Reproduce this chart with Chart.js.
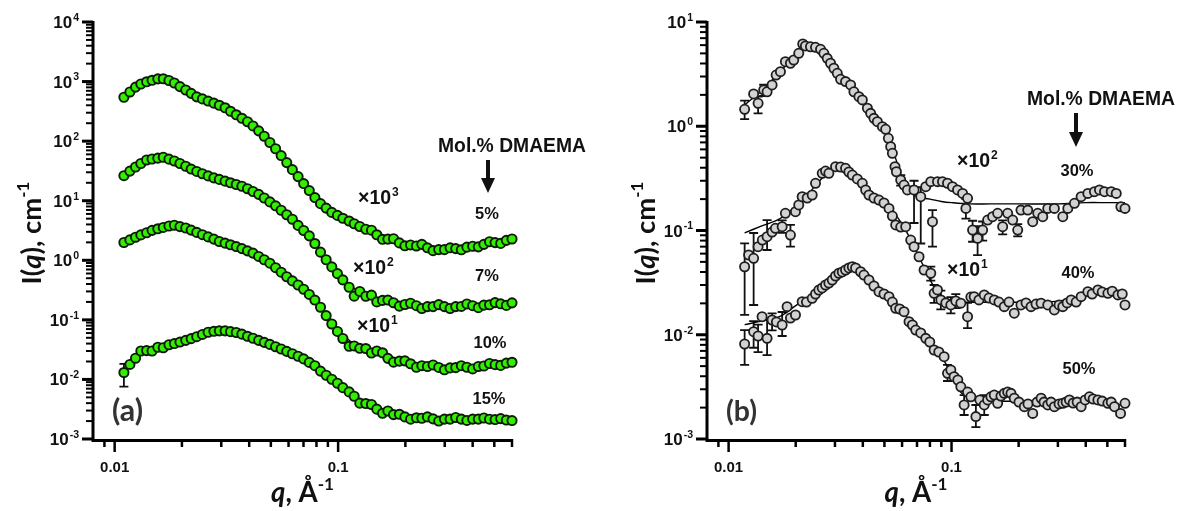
<!DOCTYPE html>
<html>
<head>
<meta charset="utf-8">
<script src="https://cdn.jsdelivr.net/npm/chart.js@4.4.1/dist/chart.umd.min.js"></script>
<style>
  body { margin: 0; background: #fff; }
  #wrap { position: relative; width: 1177px; height: 511px; }
  canvas { position: absolute; left: 0; top: 0; }
</style>
</head>
<body>
<div id="wrap">
  <canvas id="chartA" width="1177" height="511"></canvas>
  <canvas id="chartB" width="1177" height="511"></canvas>
</div>
<script>
// ---------- panel (a): q grid and intensities (green) ----------
var qA = [0.0110,0.0117,0.0124,0.0131,0.0139,0.0147,0.0156,0.0165,0.0175,0.0185,
  0.0196,0.0208,0.0220,0.0233,0.0247,0.0262,0.0278,0.0294,0.0312,0.0330,
  0.0350,0.0371,0.0393,0.0416,0.0441,0.0467,0.0495,0.0525,0.0556,0.0589,
  0.0624,0.0662,0.0701,0.0743,0.0787,0.0834,0.0884,0.0937,0.0993,0.105,
  0.112,0.118,0.125,0.133,0.141,0.149,0.158,0.167,0.177,0.188,
  0.199,0.211,0.224,0.237,0.251,0.266,0.282,0.299,0.317,0.336,
  0.356,0.377,0.400,0.424,0.449,0.476,0.504,0.534,0.566,0.600];

var I5 = [545,669,808,911,992,1051,1110,1114,1043,947,
  824,722,634,554,512,471,434,400,363,317,
  277,242,212,180,149,121,95,74.5,57.3,43.6,
  33.2,25.4,19.4,14.8,11.3,8.93,7.51,6.37,5.67,5.07,
  4.56,4.11,3.69,3.32,3.20,2.68,2.25,2.27,2.30,1.96,
  1.75,1.81,1.74,1.85,1.62,1.45,1.51,1.51,1.62,1.57,
  1.50,1.66,1.72,1.68,1.85,2.05,1.98,1.92,2.16,2.28];

var I7 = [26.3,31.4,36.8,42.1,48.3,50.1,51.8,53.7,49.9,46.5,
  42.2,37.9,34.0,31.0,28.4,26.1,24.2,22.8,21.3,20.0,
  18.7,17.5,15.9,14.3,12.8,11.1,9.55,8.21,6.92,5.82,
  4.89,3.85,3.16,2.57,1.91,1.37,1.02,0.775,0.596,0.469,
  0.353,0.25,0.30,0.249,0.26,0.20,0.212,0.215,0.194,0.17,
  0.181,0.19,0.173,0.155,0.167,0.167,0.18,0.167,0.155,0.167,
  0.168,0.185,0.173,0.16,0.177,0.179,0.195,0.186,0.175,0.193];

var I10 = [1.99,2.20,2.44,2.67,2.90,3.18,3.38,3.56,3.76,3.88,
  3.68,3.48,3.21,2.94,2.69,2.47,2.27,2.07,1.94,1.82,
  1.70,1.57,1.44,1.32,1.16,1.02,0.894,0.751,0.631,0.530,
  0.451,0.385,0.327,0.267,0.215,0.163,0.118,0.0853,0.0639,0.0487,
  0.036,0.0365,0.0333,0.0330,0.0278,0.030,0.028,0.0226,0.0195,0.0203,
  0.0205,0.0183,0.0160,0.0170,0.0165,0.0175,0.0159,0.0145,0.0156,0.0158,
  0.0170,0.0160,0.0150,0.0165,0.0168,0.0185,0.0177,0.0172,0.0188,0.0194];

var I15 = [0.01305,0.01785,0.0227,0.0300,0.0305,0.0300,0.0347,0.0340,0.0382,0.0400,
  0.0424,0.0453,0.0484,0.0522,0.0569,0.0619,0.0643,0.0654,0.0654,0.0634,
  0.0614,0.0575,0.0530,0.0491,0.0453,0.0419,0.0387,0.0354,0.0324,0.0296,
  0.0270,0.0245,0.0221,0.0193,0.0170,0.0138,0.01176,0.01007,0.00863,0.00728,
  0.00617,0.00522,0.0040,0.00394,0.0038,0.00317,0.0027,0.00295,0.00257,0.0026,
  0.00235,0.00215,0.00227,0.00223,0.00235,0.00218,0.0020,0.00216,0.00216,0.0023,
  0.00216,0.00205,0.00216,0.00216,0.00225,0.00215,0.00212,0.0022,0.00208,0.00204];
var err15Idx = [0], err15Lo = [0.0076], err15Hi = [0.0183];

// model fits, panel (a)
var fitQA = [0.0110,0.0131,0.0156,0.0185,0.0220,0.0262,0.0312,0.0371,0.0441,0.0525,0.0624,0.0743,
  0.0884,0.105,0.125,0.149,0.177,0.211,0.251,0.299,0.356,0.424,0.504,0.600];
var fit5 = [545,911,1110,947,634,471,363,242,149,74.5,33.2,14.8,7.51,5.07,3.69,2.68,2.11,1.81,1.62,1.51,1.60,1.79,1.98,2.28];
var fit7 = [26.3,42.1,51.8,46.5,34.0,26.1,21.3,17.5,12.8,8.21,4.89,2.57,1.02,0.50,0.29,0.226,0.196,0.177,0.168,0.167,0.168,0.175,0.182,0.193];
var fit10 = [1.99,2.67,3.38,3.88,3.21,2.47,1.94,1.57,1.16,0.751,0.451,0.267,0.125,0.056,0.034,0.0262,0.0215,0.0183,0.0166,0.0157,0.0159,0.0165,0.0177,0.0194];
var fit15 = [0.018,0.0276,0.0347,0.040,0.0484,0.0619,0.0654,0.0575,0.0453,0.0354,0.027,0.0193,0.01176,0.00728,0.00441,0.00317,0.00257,0.00231,0.00221,0.00216,0.00216,0.00216,0.00212,0.00204];

// ---------- panel (b): grey points ----------
var q30 = [0.0118,0.01295,0.01356,0.01437,0.01488,0.01567,0.01634,0.01708,0.01798,0.01894,
  0.0196,0.02064,0.02151,0.02212,0.0233,0.02454,0.02585,0.02675,0.0277,0.02866,
  0.02966,0.03073,0.03179,0.03347,0.03526,0.03648,0.03842,0.0398,0.04193,0.04337,
  0.04487,0.04648,0.04895,0.05065,0.05208,0.05334,0.05429,0.05577,0.05658,0.05916,
  0.06122,0.06341,0.06789,0.07276,0.07663,0.0807,0.08214,0.0865,0.09111,0.09594,
  0.1010,0.1064,0.1121,0.1160,0.1180,0.1243,0.1309,0.1379,0.1452,0.1529,
  0.1610,0.1696,0.1786,0.1881,0.1981,0.2049,0.2197,0.2313,0.2436,0.2566,
  0.2702,0.2893,0.3156,0.3324,0.3559,0.3814,0.4088,0.4377,0.461,0.4856,
  0.5204,0.5481,0.575,0.600];
var I30 = [1.454,2.04,1.66,2.23,2.14,2.49,3.10,3.34,4.16,4.02,
  4.32,5.01,6.15,5.89,5.79,5.72,5.47,5.01,4.48,4.02,
  3.60,3.22,2.82,2.68,2.49,2.14,1.92,1.79,1.49,1.33,
  1.19,1.105,0.99,0.935,0.766,0.637,0.55,0.409,0.366,0.305,
  0.273,0.245,0.245,0.211,0.263,0.294,0.1215,0.294,0.294,0.284,
  0.263,0.245,0.227,0.163,0.2036,0.101,0.0842,0.101,0.126,0.1356,
  0.1462,0.1088,0.1462,0.126,0.101,0.157,0.157,0.1215,0.1462,0.1356,
  0.163,0.163,0.1356,0.163,0.1823,0.211,0.227,0.2356,0.245,0.2356,
  0.2356,0.227,0.169,0.163];
var err30Idx = [0,2,3,39,42,43,46,53,55,56,57,61,64];
var err30Lo = [1.17,1.33,1.95,0.27,0.118,0.075,0.07,0.13,0.078,0.058,0.08,0.092,0.088];
var err30Hi = [1.76,1.92,2.5,0.34,0.30,0.26,0.157,0.2,0.124,0.11,0.122,0.125,0.115];

var q40 = [0.0118,0.0123,0.01295,0.01356,0.01417,0.01488,0.01567,0.01622,0.01739,0.01798,
  0.01894,0.01995,0.02064,0.02138,0.02252,0.02371,0.02454,0.0263,0.02722,0.02817,
  0.03018,0.03179,0.03347,0.03464,0.03588,0.03779,0.0398,0.04119,0.04262,0.04487,
  0.04726,0.04977,0.05242,0.05429,0.05618,0.05916,0.0623,0.06561,0.06789,0.07149,
  0.0753,0.0807,0.08353,0.0865,0.08954,0.09428,0.09929,0.1045,0.1101,0.118,
  0.1221,0.1264,0.1327,0.1402,0.1472,0.1555,0.1632,0.1724,0.181,0.1912,
  0.2049,0.2159,0.2273,0.2394,0.2522,0.2702,0.2893,0.3037,0.3156,0.330,
  0.344,0.3623,0.3814,0.4088,0.4274,0.4535,0.4741,0.5028,0.5257,0.5577,
  0.5831,0.600];
var I40 = [0.0449,0.0582,0.0541,0.0699,0.081,0.0872,0.0967,0.105,0.1088,0.1462,
  0.0905,0.1515,0.1757,0.211,0.205,0.219,0.2836,0.3537,0.372,0.3537,
  0.409,0.4065,0.395,0.364,0.3405,0.312,0.2836,0.2446,0.219,0.205,
  0.196,0.1836,0.163,0.1377,0.113,0.108,0.1088,0.081,0.0699,0.056,
  0.0418,0.0389,0.025,0.0269,0.0216,0.0202,0.0193,0.0211,0.0201,0.0149,
  0.023,0.0232,0.0216,0.0241,0.0225,0.0216,0.0206,0.0186,0.0206,0.0161,
  0.0193,0.0202,0.0186,0.0197,0.0201,0.0193,0.0173,0.0193,0.0186,0.0202,
  0.0216,0.0206,0.0232,0.0259,0.0246,0.0269,0.0257,0.025,0.0262,0.0241,
  0.0246,0.0193];
var err40Idx = [0,2,5,8,10,41,42,44,46,47,49];
var err40Lo = [0.0155,0.0193,0.065,0.095,0.0699,0.033,0.0202,0.0175,0.016,0.018,0.0116];
var err40Hi = [0.0754,0.0946,0.126,0.125,0.113,0.045,0.030,0.0265,0.023,0.0245,0.0202];

var q50 = [0.0118,0.01295,0.01356,0.01413,0.01488,0.01567,0.01639,0.01739,0.0183,0.01894,
  0.01995,0.02138,0.02235,0.02371,0.02454,0.0254,0.0263,0.02722,0.02817,0.02917,
  0.03018,0.03124,0.03235,0.03347,0.03464,0.03588,0.03713,0.0391,0.04046,0.04262,
  0.04487,0.04726,0.04977,0.05242,0.05429,0.05618,0.05854,0.06122,0.06447,0.06677,
  0.0691,0.07276,0.07663,0.07987,0.08353,0.08768,0.09263,0.09594,0.09929,0.1027,
  0.1067,0.1101,0.1139,0.118,0.1221,0.1286,0.134,0.1402,0.1452,0.1502,
  0.1555,0.161,0.1666,0.1724,0.1786,0.1848,0.1912,0.2007,0.2121,0.2203,
  0.2313,0.2418,0.2522,0.26,0.2702,0.2796,0.2893,0.3037,0.3156,0.3266,
  0.338,0.3511,0.366,0.3814,0.3976,0.4157,0.4318,0.4535,0.4741,0.5028,
  0.5204,0.5384,0.5731,0.600];
var I50 = [0.00815,0.0107,0.00973,0.0149,0.00924,0.01385,0.01326,0.0124,0.0186,0.01447,
  0.01547,0.02075,0.0206,0.02236,0.0246,0.02686,0.0281,0.030,0.03135,0.0335,
  0.0366,0.0389,0.040,0.0418,0.0437,0.0449,0.0437,0.0402,0.0374,0.0335,
  0.02935,0.02588,0.0246,0.02317,0.0206,0.01794,0.01766,0.01664,0.01334,0.0124,
  0.0111,0.0104,0.00924,0.00852,0.00714,0.00683,0.00616,0.00427,0.00459,0.00396,
  0.00368,0.00317,0.00212,0.00282,0.00254,0.00164,0.00237,0.00212,0.00237,0.00254,
  0.00264,0.0022,0.00258,0.00274,0.00282,0.00274,0.00246,0.00226,0.00204,0.00217,
  0.00176,0.00226,0.00246,0.00226,0.00212,0.00226,0.00204,0.00217,0.0022,0.00226,
  0.00237,0.00221,0.00226,0.00204,0.00237,0.00254,0.00242,0.00237,0.00231,0.0022,
  0.00226,0.00204,0.00176,0.0022];
var err50Idx = [0,1,2,4,5,7,47,52,55,57];
var err50Lo = [0.00513,0.0075,0.0068,0.00639,0.011,0.00973,0.0036,0.0017,0.0013,0.0017];
var err50Hi = [0.0111,0.0135,0.0125,0.01385,0.016,0.01652,0.00513,0.00264,0.00212,0.00264];

// model fits, panel (b)
var fitQ30 = [0.0118,0.013,0.0145,0.016,0.018,0.020,0.0215,0.023,0.025,0.0275,0.030,0.033,0.036,0.040,0.044,0.048,
  0.052,0.056,0.060,0.065,0.070,0.080,0.090,0.10,0.12,0.15,0.20,0.30,0.40,0.50,0.60];
var fit30 = [1.6,1.9,2.3,2.9,3.8,4.9,5.8,5.9,5.6,4.8,3.8,2.9,2.3,1.75,1.3,1.05,0.80,0.50,0.32,0.24,0.21,0.20,0.19,0.185,0.18,0.18,0.18,0.18,0.185,0.185,0.185];
var fitQ40 = [0.0118,0.014,0.017,0.020,0.023,0.026,0.029,0.032,0.035,0.038,0.042,0.046,0.050,0.055,0.060,0.065,
  0.070,0.075,0.080,0.085,0.090,0.10,0.12,0.15,0.20,0.30,0.40,0.50,0.60];
var fit40 = [0.095,0.11,0.13,0.17,0.23,0.31,0.38,0.40,0.36,0.31,0.25,0.21,0.185,0.15,0.115,0.085,
  0.062,0.045,0.034,0.027,0.024,0.021,0.0205,0.0205,0.0205,0.021,0.0235,0.0245,0.0235];
var fitQ50 = [0.0118,0.014,0.017,0.020,0.023,0.026,0.030,0.033,0.036,0.039,0.043,0.047,0.052,0.057,0.062,0.068,
  0.075,0.082,0.090,0.10,0.11,0.125,0.15,0.20,0.30,0.40,0.50,0.60];
var fit50 = [0.0125,0.0135,0.015,0.019,0.023,0.028,0.035,0.041,0.045,0.043,0.037,0.029,0.024,0.019,0.0155,0.012,
  0.0098,0.0081,0.0062,0.0042,0.0028,0.0024,0.0023,0.0023,0.0022,0.0023,0.0022,0.0021];

// ---------- axes: tick values and labels ----------
var xTickVals = [0.009,0.01,0.02,0.03,0.04,0.05,0.06,0.07,0.08,0.09,0.1,0.2,0.3,0.4,0.5,0.6];
var xLabelVals = [0.01, 0.1];
var xTickLabels = ['0.01', '0.1'];
var aYExp = [-3, -2, -1, 0, 1, 2, 3, 4];
var bYExp = [-3, -2, -1, 0, 1];

var aLabels = ['5%', '7%', '10%', '15%'];
var aFactors = ['3', '2', '1'];
var bLabels = ['30%', '40%', '50%'];
var bFactors = ['2', '1'];

var LAB = '"Liberation Sans", Arial, sans-serif';
var TTL = 'Lato, "Open Sans", sans-serif';

function partFont(p, size, fam) {
  var s = p.sup ? size * 0.62 : size;
  return (p.it ? 'italic ' : '') + 'bold ' + s.toFixed(2) + 'px ' + fam;
}
function richWidth(ctx, parts, size, fam) {
  var w = 0;
  parts.forEach(function(p) {
    ctx.font = partFont(p, size, fam);
    w += ctx.measureText(p.t).width + (p.gap || 0);
  });
  return w;
}
function fitSize(ctx, parts, fam, target) {
  return 100 * target / richWidth(ctx, parts, 100, fam);
}
// y is the baseline
function drawRich(ctx, parts, x, y, size, fam, align) {
  var w = richWidth(ctx, parts, size, fam);
  var cx = align === 'center' ? x - w / 2 : (align === 'right' ? x - w : x);
  ctx.textAlign = 'left';
  ctx.textBaseline = 'alphabetic';
  parts.forEach(function(p) {
    ctx.font = partFont(p, size, fam);
    ctx.fillText(p.t, cx, p.sup ? y - size * 0.42 : y);
    cx += ctx.measureText(p.t).width + (p.gap || 0);
  });
}
function drawArrow(ctx, x, y0, y1) {
  ctx.fillRect(x - 2, y0, 4, y1 - y0 - 13);
  ctx.beginPath();
  ctx.moveTo(x - 7, y1 - 15);
  ctx.lineTo(x + 7, y1 - 15);
  ctx.lineTo(x, y1);
  ctx.closePath();
  ctx.fill();
}

function panelPlugin(pan) {
  return {
    id: 'sas_' + pan.id,
    beforeDatasetsDraw: function(chart) {
      var ctx = chart.ctx, xs = chart.scales.x, ys = chart.scales.y;
      ctx.save();
      ctx.strokeStyle = '#111';
      ctx.lineWidth = 1.8;
      pan.series.forEach(function(s) {
        if (!s.errIdx) return;
        s.errIdx.forEach(function(idx, k) {
          var px = xs.getPixelForValue(s.q[idx]);
          var y1 = ys.getPixelForValue(s.errLo[k]), y2 = ys.getPixelForValue(s.errHi[k]);
          ctx.beginPath();
          ctx.moveTo(px, y1); ctx.lineTo(px, y2);
          ctx.moveTo(px - 4.5, y1); ctx.lineTo(px + 4.5, y1);
          ctx.moveTo(px - 4.5, y2); ctx.lineTo(px + 4.5, y2);
          ctx.stroke();
        });
      });
      ctx.restore();
    },
    afterDraw: function(chart) {
      var ctx = chart.ctx, a = chart.chartArea, xs = chart.scales.x, ys = chart.scales.y;
      ctx.save();
      ctx.strokeStyle = '#000';
      ctx.fillStyle = '#111';
      // y ticks
      pan.yExp.forEach(function(e) {
        for (var m = 1; m <= 9; m++) {
          var v = m * Math.pow(10, e);
          if (v > ys.max * 1.0001) break;
          var py = ys.getPixelForValue(v);
          ctx.lineWidth = m === 1 ? 3 : 2;
          ctx.beginPath();
          ctx.moveTo(a.left - (m === 1 ? 11 : 7), py);
          ctx.lineTo(a.left, py);
          ctx.stroke();
        }
        var ly = ys.getPixelForValue(Math.pow(10, e));
        drawRich(ctx, [{t: '10', gap: 1}, {t: String(e), sup: true}],
          a.left - 14, ly + 6, 17, LAB, 'right');
      });
      // x ticks
      xTickVals.forEach(function(v) {
        var px = xs.getPixelForValue(v);
        var major = xLabelVals.indexOf(v) >= 0;
        ctx.lineWidth = 2.5;
        ctx.beginPath();
        ctx.moveTo(px, a.bottom);
        ctx.lineTo(px, a.bottom + (major ? 13 : 8));
        ctx.stroke();
      });
      xLabelVals.forEach(function(v, i) {
        drawRich(ctx, [{t: xTickLabels[i]}], xs.getPixelForValue(v), 472, 15, LAB, 'center');
      });
      // axis lines
      ctx.lineWidth = 3;
      ctx.beginPath();
      ctx.moveTo(a.left, a.top - 1);
      ctx.lineTo(a.left, a.bottom + 1.5);
      ctx.lineTo(a.right + 1, a.bottom + 1.5);
      ctx.stroke();
      // axis titles
      var yt = [{t: 'I('}, {t: 'q', it: true}, {t: '), cm'}, {t: '-1', sup: true}];
      var ys0 = fitSize(ctx, yt, TTL, 103);
      ctx.save();
      ctx.translate(pan.yTitleX, 233);
      ctx.rotate(-Math.PI / 2);
      drawRich(ctx, yt, 0, 0, ys0, TTL, 'center');
      ctx.restore();
      var xt = [{t: 'q', it: true}, {t: ', \u00C5'}, {t: '-1', sup: true}];
      drawRich(ctx, xt, (a.left + a.right) / 2, 502, fitSize(ctx, xt, TTL, 63), TTL, 'center');
      // panel letter
      ctx.fillStyle = '#333';
      var pl = [{t: pan.letter}];
      drawRich(ctx, pl, pan.letterX, 421, fitSize(ctx, pl, TTL, 31), TTL, 'left');
      // annotations
      ctx.fillStyle = '#111';
      var mol = [{t: 'Mol.% DMAEMA'}];
      drawRich(ctx, mol, pan.molX, pan.molY, fitSize(ctx, mol, LAB, 148), LAB, 'center');
      drawArrow(ctx, pan.arrowX, pan.arrowY0, pan.arrowY1);
      var ps = fitSize(ctx, [{t: '10%'}], LAB, 33);
      pan.labels.forEach(function(t, i) {
        drawRich(ctx, [{t: t}], pan.labelX[i], pan.labelY[i], ps, LAB, 'center');
      });
      var fs = fitSize(ctx, [{t: '\u00D710', gap: 1}, {t: '3', sup: true}], LAB, 40);
      pan.factors.forEach(function(t, i) {
        drawRich(ctx, [{t: '\u00D710', gap: 1}, {t: t, sup: true}], pan.factorX[i], pan.factorY[i], fs, LAB, 'left');
      });
      ctx.restore();
    }
  };
}

function makeChart(canvasId, pan) {
  var datasets = [];
  pan.series.forEach(function(s) {
    datasets.push({
      data: s.q.map(function(q, i) { return {x: q, y: s.I[i]}; }),
      showLine: false,
      pointRadius: pan.r, pointHoverRadius: pan.r,
      pointBorderWidth: pan.bw,
      pointBackgroundColor: pan.fill,
      pointBorderColor: pan.edge,
      clip: false, order: 1
    });
    datasets.push({
      data: s.fq.map(function(q, i) { return {x: q, y: s.fI[i]}; }),
      showLine: true, pointRadius: 0, pointHoverRadius: 0,
      borderColor: '#000', borderWidth: 1.4, tension: 0.35,
      clip: false, order: 2
    });
  });
  return new Chart(document.getElementById(canvasId).getContext('2d'), {
    type: 'scatter',
    data: {datasets: datasets},
    options: {
      responsive: false,
      animation: false,
      events: [],
      layout: {padding: pan.pad},
      plugins: {legend: {display: false}, tooltip: {enabled: false}},
      scales: {
        x: {type: 'logarithmic', min: 0.008, max: 0.6, display: false},
        y: {type: 'logarithmic', min: pan.ymin, max: pan.ymax, display: false}
      }
    },
    plugins: [panelPlugin(pan)]
  });
}

makeChart('chartA', {
  id: 'a', letter: '(a)', letterX: 112, yTitleX: 41,
  pad: {left: 93, right: 1177 - 512, top: 22, bottom: 511 - 439},
  ymin: 1e-3, ymax: 1e4, yExp: aYExp,
  r: 4.6, bw: 1.9, fill: '#33ee00', edge: '#0a1a05',
  series: [
    {q: qA, I: I5, fq: fitQA, fI: fit5},
    {q: qA, I: I7, fq: fitQA, fI: fit7},
    {q: qA, I: I10, fq: fitQA, fI: fit10},
    {q: qA, I: I15, fq: fitQA, fI: fit15, errIdx: err15Idx, errLo: err15Lo, errHi: err15Hi}
  ],
  molX: 512, molY: 152, arrowX: 488, arrowY0: 160, arrowY1: 193,
  labels: aLabels, labelX: [487, 487, 490, 489], labelY: [219, 281, 348, 404],
  factors: aFactors, factorX: [358, 353, 357], factorY: [204, 274, 332]
});

makeChart('chartB', {
  id: 'b', letter: '(b)', letterX: 726, yTitleX: 655,
  pad: {left: 707, right: 1177 - 1125, top: 22, bottom: 511 - 439},
  ymin: 1e-3, ymax: 10, yExp: bYExp,
  r: 4.6, bw: 1.8, fill: '#d2d2d2', edge: '#1e1e1e',
  series: [
    {q: q30, I: I30, fq: fitQ30, fI: fit30, errIdx: err30Idx, errLo: err30Lo, errHi: err30Hi},
    {q: q40, I: I40, fq: fitQ40, fI: fit40, errIdx: err40Idx, errLo: err40Lo, errHi: err40Hi},
    {q: q50, I: I50, fq: fitQ50, fI: fit50, errIdx: err50Idx, errLo: err50Lo, errHi: err50Hi}
  ],
  molX: 1101, molY: 105, arrowX: 1076, arrowY0: 113, arrowY1: 147,
  labels: bLabels, labelX: [1077, 1078, 1079], labelY: [176, 278, 374],
  factors: bFactors, factorX: [957, 947], factorY: [167, 276]
});
</script>
</body>
</html>
